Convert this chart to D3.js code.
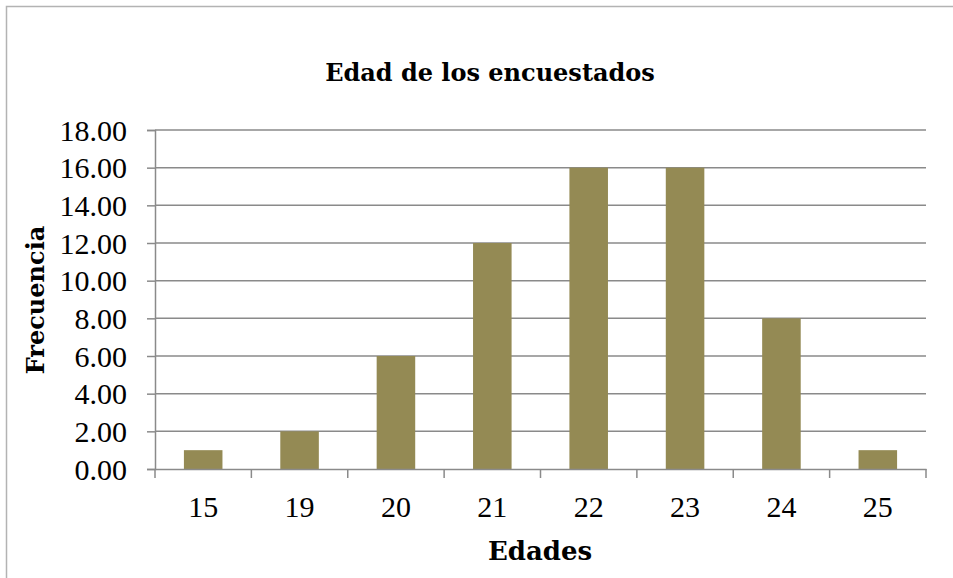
<!DOCTYPE html>
<html>
<head>
<meta charset="utf-8">
<script src="https://cdn.jsdelivr.net/npm/d3@7"></script>
<style>
  body { margin: 0; background: #fff; }
  text { font-family: "DejaVu Serif", "Liberation Serif", serif; fill: #000; }
  .tick text { font-family: "Liberation Serif", serif; }
</style>
</head>
<body>
<div id="chart"></div>
<script>
// data
var edades = ["15", "19", "20", "21", "22", "23", "24", "25"];
var frecuencia = [1, 2, 6, 12, 16, 16, 8, 1];
var yTicks = [0, 2, 4, 6, 8, 10, 12, 14, 16, 18];

var width = 953, height = 578;
var margin = {left: 155, right: 27, top: 130, bottom: 109};
var plotW = width - margin.left - margin.right;
var plotH = height - margin.top - margin.bottom;

var svg = d3.select("#chart").append("svg")
  .attr("width", width)
  .attr("height", height);

// chart border (only top & left visible in the crop)
svg.append("path")
  .attr("d", "M6.5," + height + "V6.5H" + width)
  .attr("fill", "none")
  .attr("stroke", "#b3b3b3")
  .attr("stroke-width", 1.5);

var xScale = d3.scaleBand()
  .domain(edades)
  .range([margin.left, margin.left + plotW])
  .paddingInner(0.6)
  .paddingOuter(0.3);

var yScale = d3.scaleLinear()
  .domain([0, 18])
  .range([margin.top + plotH, margin.top]);

// gridlines
svg.append("g")
  .selectAll("line")
  .data(yTicks.slice(1))
  .enter().append("line")
    .attr("x1", margin.left)
    .attr("x2", margin.left + plotW)
    .attr("y1", function(d) { return yScale(d); })
    .attr("y2", function(d) { return yScale(d); })
    .attr("stroke", "#8a8a8a")
    .attr("stroke-width", 1.5);

// bars
svg.append("g")
  .selectAll("rect")
  .data(frecuencia)
  .enter().append("rect")
    .attr("x", function(d, i) { return xScale(edades[i]); })
    .attr("y", function(d) { return yScale(d); })
    .attr("width", xScale.bandwidth())
    .attr("height", function(d) { return yScale(0) - yScale(d); })
    .attr("fill", "#948a54");

// y axis
var yAxis = svg.append("g")
  .attr("transform", "translate(" + margin.left + ",0)")
  .call(d3.axisLeft(yScale).tickValues(yTicks).tickFormat(d3.format(".2f")).tickSize(8).tickPadding(20));
yAxis.selectAll("text").style("font-size", "30px").attr("dy", "0.34em");

// x axis with ticks between categories
var xAxis = svg.append("g")
  .attr("transform", "translate(0," + (margin.top + plotH) + ")")
  .call(d3.axisBottom(xScale).tickSize(0).tickPadding(27));
xAxis.selectAll("text").style("font-size", "30px");
xAxis.append("g")
  .selectAll("line")
  .data(d3.range(edades.length + 1))
  .enter().append("line")
    .attr("x1", function(i) { return margin.left + i * plotW / edades.length; })
    .attr("x2", function(i) { return margin.left + i * plotW / edades.length; })
    .attr("y1", 0)
    .attr("y2", 9)
    .attr("stroke", "#8a8a8a")
    .attr("stroke-width", 1.5);

svg.selectAll(".domain").attr("stroke", "#8a8a8a").attr("stroke-width", 1.5);
svg.selectAll(".tick line").attr("stroke", "#8a8a8a").attr("stroke-width", 1.5);

// titles
svg.append("text")
  .attr("x", 490)
  .attr("y", 81)
  .attr("text-anchor", "middle")
  .style("font-size", "24px")
  .style("font-weight", "bold")
  .text("Edad de los encuestados");

svg.append("text")
  .attr("x", 540)
  .attr("y", 560)
  .attr("text-anchor", "middle")
  .style("font-size", "26px")
  .style("font-weight", "bold")
  .text("Edades");

svg.append("text")
  .attr("transform", "translate(44,300) rotate(-90)")
  .attr("text-anchor", "middle")
  .style("font-size", "24px")
  .style("font-weight", "bold")
  .text("Frecuencia");
</script>
</body>
</html>
